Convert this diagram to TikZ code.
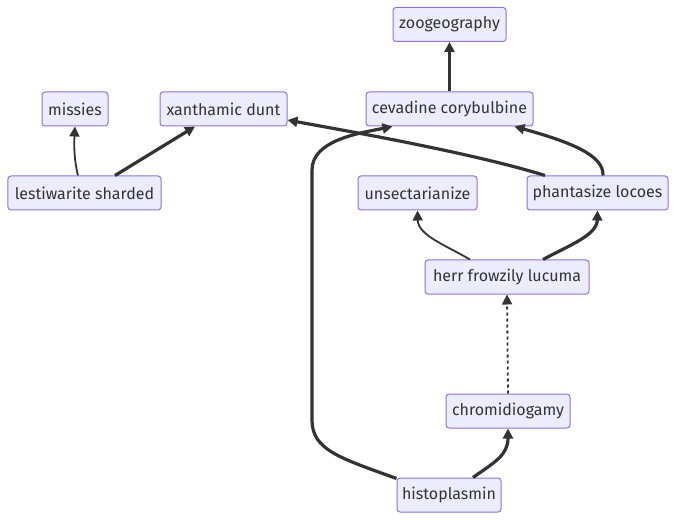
\documentclass[tikz,border=0pt]{standalone}
\usepackage{fontspec}
\setmainfont{Fira Sans}
\usetikzlibrary{arrows.meta,calc}
\definecolor{nodefill}{HTML}{ECECFF}
\definecolor{nodeline}{HTML}{9370DB}
\definecolor{ink}{HTML}{333333}
\begin{document}
\begin{tikzpicture}[x=1bp,y=-1bp,
  box/.style={draw=nodeline,fill=nodefill,line width=1bp,rounded corners=3bp,
    minimum height=34bp,inner xsep=0pt,inner ysep=0pt,text=ink,font=\fontsize{16bp}{19bp}\selectfont},
  thin edge/.style={draw=ink,line width=1.8bp,-{Triangle[length=10bp,width=10bp]}},
  thick edge/.style={draw=ink,line width=3.2bp,-{Triangle[length=10bp,width=10bp]}},
  dot edge/.style={draw=ink,line width=1.8bp,dash pattern=on 3bp off 3bp,-{Triangle[length=10bp,width=10bp]}}]
\useasboundingbox (0,0) rectangle (677,520);
\fill[white] (0,0) rectangle (677,520);
\node[box,minimum width=113bp] (zoo) at (449.5,24.5) {zoogeography};
\node[box,minimum width=66bp] (miss) at (75,109) {missies};
\node[box,minimum width=127bp] (xan) at (223.5,109) {xanthamic dunt};
\node[box,minimum width=167bp] (cev) at (449.5,109) {cevadine corybulbine};
\node[box,minimum width=153bp] (lest) at (84.5,193) {lestiwarite sharded};
\node[box,minimum width=119bp] (uns) at (417.5,193) {unsectarianize};
\node[box,minimum width=141bp] (phan) at (597.5,193) {phantasize locoes};
\node[box,minimum width=164bp] (herr) at (507,277) {herr frowzily lucuma};
\node[box,minimum width=124bp] (chrom) at (508,411) {chromidiogamy};
\node[box,minimum width=104bp] (histo) at (449,495) {histoplasmin};

\draw[thin edge] ($(lest.north)+(-6.5,0)$) .. controls (74,160) and (74,145) .. (miss.south);
\draw[thick edge] ($(lest.north)+(30.5,0)$) -- ($(xan.south)+(-28.5,0)$);
\draw[thick edge] (cev.north) -- (zoo.south);
\draw[thick edge] ($(phan.north)+(-52.5,0)$) .. controls (470,152) and (330,128) .. ($(xan.east)+(0,11)$);
\draw[thick edge] ($(phan.north)+(5.5,0)$) .. controls (604,155) and (570,142) .. ($(cev.south)+(65,0)$);
\draw[thin edge] ($(herr.north)+(-37,0)$) .. controls (445,245) and (418,235) .. (uns.south);
\draw[thick edge] ($(herr.north)+(36,0)$) .. controls (570,245) and (597,235) .. (phan.south);
\draw[dot edge] (chrom.north) -- (herr.south);
\draw[thick edge] ($(histo.north)+(24,0)$) .. controls (495,462) and (508,455) .. (chrom.south);
\draw[thick edge] ($(histo.north west)+(0,1)$) .. controls (340,458) and (312,450) .. (312,420) -- (312,170) .. controls (312,140) and (360,133) .. ($(cev.south)+(-57,0)$);
\end{tikzpicture}
\end{document}
